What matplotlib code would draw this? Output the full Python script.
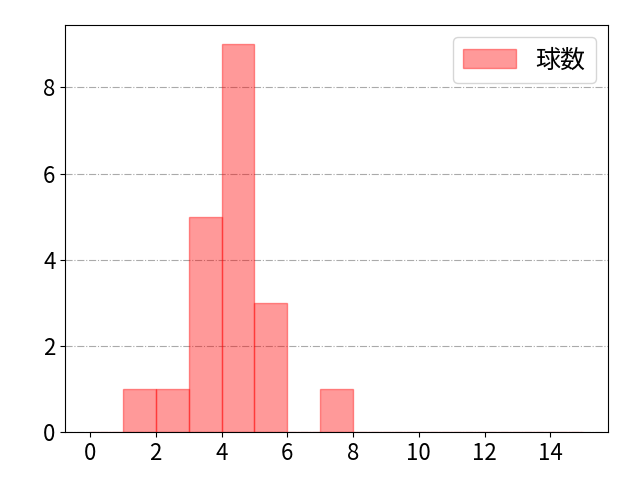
import matplotlib
matplotlib.use("Agg")
import matplotlib.pyplot as plt
import numpy as np

plt.rcParams['font.family'] = ['Noto Sans CJK JP', 'DejaVu Sans']

# pitch counts per bin (bins of width 1 from 0 to 15)
bin_edges = list(range(0, 16))
bin_counts = [0, 1, 1, 5, 9, 3, 0, 1, 0, 0, 0, 0, 0, 0, 0]
series_label = '球数'

fig, ax = plt.subplots(figsize=(6.4, 4.8), dpi=100)
fig.subplots_adjust(left=0.102, right=0.95, bottom=0.1, top=0.948)

ax.hist(bin_edges[:-1], bins=bin_edges, weights=bin_counts,
        color='red', alpha=0.4, edgecolor='red', label=series_label)

ax.set_xticks([0, 2, 4, 6, 8, 10, 12, 14])
ax.set_yticks([0, 2, 4, 6, 8])
ax.tick_params(labelsize=16)
ax.grid(axis='y', linestyle='-.', color='#aaaaaa', linewidth=0.8)
ax.set_axisbelow(True)
ax.legend(loc='upper right', fontsize=18, handlelength=2.1, handleheight=0.8)

plt.savefig('out.png', dpi=100)
